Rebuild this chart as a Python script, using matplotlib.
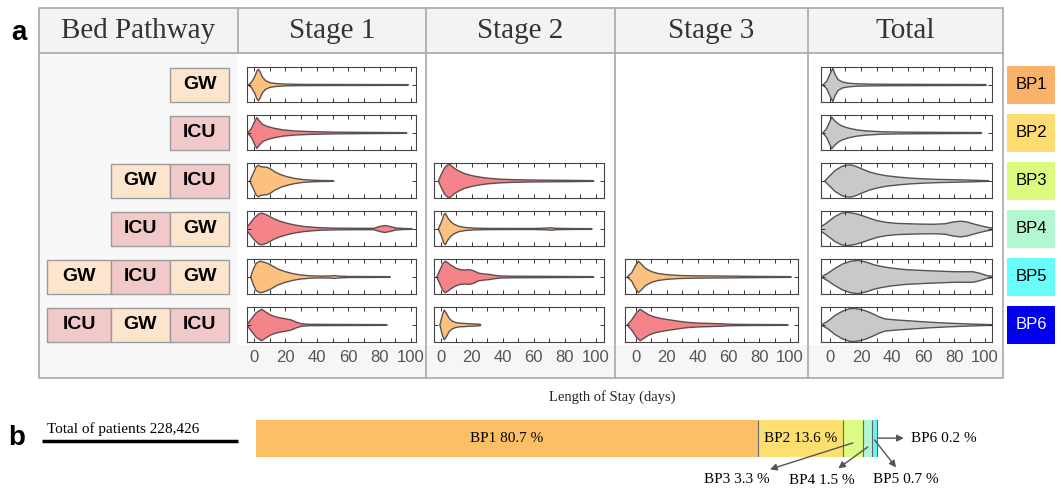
import numpy as np
import matplotlib.pyplot as plt
from matplotlib.patches import Rectangle
from matplotlib.ticker import MultipleLocator

# bed pathways (rows) and their labels
pathways = [["GW"], ["ICU"], ["GW", "ICU"], ["ICU", "GW"],
            ["GW", "ICU", "GW"], ["ICU", "GW", "ICU"]]
bp_names = ["BP1", "BP2", "BP3", "BP4", "BP5", "BP6"]
columns = ["Stage 1", "Stage 2", "Stage 3", "Total"]
ticks = [0, 20, 40, 60, 80, 100]

# share of patients per pathway (%)
shares = [80.7, 13.6, 3.3, 1.5, 0.7, 0.2]
total_patients = "228,426"

# violin outlines: (days, half-width of the density)
bp1_stage1 = ([-4, -2, 0, 1.5, 2.5, 3.5, 5, 7, 10, 14, 20, 30, 50, 75, 97, 98],
              [0, 0.15, 0.45, 0.8, 0.9, 0.75, 0.45, 0.25, 0.13, 0.08, 0.05, 0.035, 0.03, 0.025, 0.02, 0])
bp2_stage1 = ([-4.5, -2, 0, 1.5, 3, 5, 8, 12, 18, 25, 35, 50, 70, 96, 97],
              [0, 0.25, 0.65, 0.88, 0.7, 0.5, 0.38, 0.28, 0.18, 0.12, 0.08, 0.05, 0.035, 0.02, 0])
bp3_stage1 = ([-3, -1, 1, 2.5, 4, 6, 8, 10, 13, 17, 21, 26, 31, 36, 42, 50, 50.5],
              [0, 0.4, 0.8, 0.9, 0.82, 0.8, 0.78, 0.7, 0.52, 0.35, 0.24, 0.14, 0.08, 0.05, 0.03, 0.02, 0])
bp4_stage1 = ([-6, -3, 0, 3, 5, 8, 12, 16, 21, 26, 32, 40, 50, 65, 76, 80, 83, 86, 90, 95, 100, 100.5],
              [0, 0.3, 0.65, 0.88, 0.9, 0.8, 0.6, 0.45, 0.32, 0.22, 0.14, 0.08, 0.05, 0.04, 0.04, 0.15, 0.2,
               0.15, 0.06, 0.03, 0.02, 0])
bp5_stage1 = ([-2.5, -1, 1, 3.5, 6, 9, 12, 15, 19, 24, 29, 35, 42, 48, 51, 54, 60, 75, 86, 86.5],
              [0, 0.4, 0.78, 0.9, 0.85, 0.75, 0.6, 0.45, 0.32, 0.2, 0.12, 0.07, 0.05, 0.06, 0.08, 0.05, 0.03,
               0.025, 0.02, 0])
bp6_stage1 = ([-5, -2, 1, 4.5, 7, 10, 14, 18, 23, 27, 30, 35, 45, 60, 84, 84.5],
              [0, 0.35, 0.7, 0.9, 0.75, 0.58, 0.45, 0.38, 0.3, 0.15, 0.07, 0.04, 0.035, 0.03, 0.02, 0])

bp3_stage2 = ([-2, 0, 2, 4, 5.5, 8, 11, 15, 20, 25, 30, 37, 45, 55, 70, 85, 98, 98.5],
              [0, 0.4, 0.75, 0.92, 0.95, 0.75, 0.58, 0.42, 0.3, 0.22, 0.16, 0.11, 0.08, 0.06, 0.045, 0.035,
               0.02, 0])
bp4_stage2 = ([-2, 0, 1.5, 2.5, 4, 6, 8, 11, 15, 21, 30, 45, 60, 68, 71, 74, 85, 97, 97.5],
              [0, 0.4, 0.8, 0.9, 0.65, 0.42, 0.28, 0.16, 0.09, 0.05, 0.035, 0.03, 0.03, 0.05, 0.07, 0.04,
               0.025, 0.02, 0])
bp5_stage2 = ([-3, -1, 1, 2.5, 4, 6, 9, 12, 15, 18, 21, 24, 28, 31, 34, 38, 45, 60, 80, 98, 98.5],
              [0, 0.4, 0.78, 0.9, 0.82, 0.68, 0.52, 0.42, 0.4, 0.42, 0.35, 0.22, 0.17, 0.15, 0.1, 0.06,
               0.045, 0.04, 0.03, 0.02, 0])
bp6_stage2 = ([-1, 0.5, 1.8, 3, 5, 7, 9, 12, 15, 18, 21, 25, 25.5],
              [0, 0.55, 0.85, 0.7, 0.38, 0.22, 0.15, 0.1, 0.09, 0.07, 0.06, 0.04, 0])

bp5_stage3 = ([-6, -3, -1, 1.3, 3, 6, 10, 14, 20, 27, 35, 45, 55, 62, 70, 85, 100, 100.5],
              [0, 0.25, 0.6, 0.9, 0.75, 0.48, 0.3, 0.2, 0.13, 0.09, 0.07, 0.06, 0.055, 0.05, 0.04, 0.03,
               0.02, 0])
bp6_stage3 = ([-6, -3, 0, 2.4, 5, 8, 12, 16, 21, 27, 33, 40, 48, 55, 62, 75, 98, 98.5],
              [0, 0.3, 0.7, 0.9, 0.75, 0.58, 0.45, 0.37, 0.3, 0.22, 0.15, 0.11, 0.09, 0.07, 0.04, 0.03,
               0.02, 0])

bp1_total = ([-5, -2.5, -0.5, 1.5, 3, 5, 8, 12, 17, 25, 40, 60, 80, 100, 100.5],
             [0, 0.2, 0.6, 0.95, 0.6, 0.3, 0.16, 0.1, 0.07, 0.05, 0.04, 0.035, 0.03, 0.025, 0])
bp2_total = ([-5, -2.5, -0.5, 0.8, 2.5, 5, 8, 12, 17, 23, 33, 45, 70, 97, 97.5],
             [0, 0.25, 0.65, 0.9, 0.72, 0.52, 0.38, 0.27, 0.18, 0.12, 0.07, 0.05, 0.035, 0.025, 0])
bp3_total = ([-3.7, -1, 3, 7, 10, 13, 16, 20, 25, 30, 36, 44, 52, 61, 70, 81, 92, 101.5, 102],
             [0, 0.25, 0.6, 0.82, 0.9, 0.92, 0.85, 0.7, 0.52, 0.4, 0.3, 0.22, 0.16, 0.12, 0.09, 0.07,
              0.045, 0.02, 0])
bp4_total = ([-8, -4, -1, 3, 7, 11, 15, 20, 25, 30, 36, 43, 50, 58, 66, 74, 79, 84, 88, 94, 100, 105, 106],
             [0.03, 0.25, 0.45, 0.72, 0.9, 0.95, 0.9, 0.78, 0.62, 0.48, 0.38, 0.32, 0.3, 0.28, 0.27, 0.3,
              0.4, 0.45, 0.4, 0.25, 0.12, 0.04, 0.04])
bp5_total = ([-6, -2, 3, 8, 13, 18, 23, 28, 33, 40, 49, 58, 66, 74, 81, 88, 92, 96, 101, 105],
             [0, 0.2, 0.5, 0.75, 0.9, 0.95, 0.85, 0.7, 0.6, 0.5, 0.42, 0.38, 0.35, 0.32, 0.3, 0.3, 0.3,
              0.22, 0.08, 0.03])
bp6_total = ([-6, -2, 3, 8, 12, 15, 19, 23, 27, 31, 35, 42, 49, 57, 66, 75, 83, 92, 100, 105],
             [0, 0.2, 0.55, 0.8, 0.92, 0.95, 0.9, 0.8, 0.65, 0.48, 0.35, 0.29, 0.25, 0.2, 0.15, 0.11,
              0.08, 0.05, 0.03, 0.02])

stage_violins = [
    [bp1_stage1, bp2_stage1, bp3_stage1, bp4_stage1, bp5_stage1, bp6_stage1],
    [None, None, bp3_stage2, bp4_stage2, bp5_stage2, bp6_stage2],
    [None, None, None, None, bp5_stage3, bp6_stage3],
    [bp1_total, bp2_total, bp3_total, bp4_total, bp5_total, bp6_total],
]

# styling
ward_fill = {"GW": "#fde5cd", "ICU": "#f2c9c9"}
violin_fill = {"GW": "#fcc17e", "ICU": "#f4838a", "Total": "#c9c9c9"}
bp_colors = ["#f9b269", "#fedc72", "#dcfb7e", "#b2f7cf", "#68fcfa", "#0000ee"]
bar_colors = ["#fdbf66", "#fddf70", "#ddfa82", "#b3f6d4", "#5df8f8", "#1a1ad8"]
serif = ["Liberation Serif", "DejaVu Serif"]
sans = ["Liberation Sans", "DejaVu Sans"]

W, H = 1061, 488


def frac(l, t, r, b):
    # pixel box -> figure fraction
    return [l / W, 1 - b / H, (r - l) / W, (b - t) / H]


fig = plt.figure(figsize=(W / 100, H / 100), dpi=100)
bg = fig.add_axes([0, 0, 1, 1], zorder=0)
bg.set_xlim(0, W)
bg.set_ylim(H, 0)
bg.axis("off")

# ---- table frame ----
grid = "#a8a8a8"
bg.add_patch(Rectangle((39, 8), 964, 45, fc="#f3f3f3", ec="none"))
bg.add_patch(Rectangle((39, 53), 199, 325, fc="#f8f8f8", ec="none"))
bg.add_patch(Rectangle((238, 345), 765, 32, fc="#f6f6f6", ec="none"))
bg.add_patch(Rectangle((39, 8), 964, 370, fc="none", ec=grid, lw=1.2))
bg.plot([39, 1003], [53, 53], color=grid, lw=1.2)
bg.plot([238, 238], [8, 53], color=grid, lw=1.2)
for x in [426, 615, 808]:
    bg.plot([x, x], [8, 378], color=grid, lw=1.2)

header_x = [138.5, 332, 520.5, 711.5, 905.5]
for hx, name in zip(header_x, ["Bed Pathway"] + columns):
    bg.text(hx, 31, name, ha="center", va="center", fontsize=21,
            family=serif, color="#333333")

bg.text(19, 33, "a", ha="center", va="center", fontsize=20,
        fontweight="bold", family=sans)
bg.text(17, 438, "b", ha="center", va="center", fontsize=20,
        fontweight="bold", family=sans)

# ---- pathway boxes and BP labels ----
edges = [47, 111, 170, 229]
for i, path in enumerate(pathways):
    cy = 84.5 + 48 * i
    n = len(path)
    for j, ward in enumerate(path):
        x0, x1 = edges[3 - n + j], edges[4 - n + j]
        bg.add_patch(Rectangle((x0, cy - 17), x1 - x0, 34, fc=ward_fill[ward],
                               ec="#9a9a9a", lw=1.0))
        bg.text((x0 + x1) / 2, cy, ward, ha="center", va="center",
                fontsize=14, fontweight="bold", family=sans)
    bg.add_patch(Rectangle((1007, cy - 19), 48, 38, fc=bp_colors[i], ec="none"))
    bg.text(1031, cy, bp_names[i], ha="center", va="center", fontsize=12,
            family=sans, color="white" if i == 5 else "black")

bg.text(612, 397, "Length of Stay (days)", ha="center", va="center",
        fontsize=10.5, family=serif, color="#222222")

# ---- violin panels ----
col_px = [(247, 416), (434, 604), (625, 798), (821, 992)]
col_xlim = [(-4.5, 103.2), (-4.5, 105.5), (-7.1, 105.2), (-5.8, 104.5)]

for c, violins in enumerate(stage_violins):
    last = max(i for i, v in enumerate(violins) if v is not None)
    for i, prof in enumerate(violins):
        if prof is None:
            continue
        cy = 84.5 + 48 * i
        ax = fig.add_axes(frac(col_px[c][0], cy - 17.5, col_px[c][1], cy + 17.5),
                          zorder=2)
        ax.set_facecolor("white")
        days, half = np.array(prof[0]), np.array(prof[1])
        key = "Total" if c == 3 else pathways[i][c]
        ax.fill_between(days, -half, half, facecolor=violin_fill[key],
                        edgecolor="#5a5050", lw=1.0)
        ax.set_xlim(*col_xlim[c])
        ax.set_ylim(-1, 1)
        ax.set_xticks(ticks)
        ax.xaxis.set_minor_locator(MultipleLocator(10))
        ax.set_yticks([0])
        ax.set_yticklabels([])
        ax.tick_params(axis="both", which="both", direction="in", top=True,
                       right=True, length=3, width=0.7, color="#333333")
        if i == last:
            ax.tick_params(axis="x", labelsize=12, labelcolor="#555555", pad=6)
            for lab in ax.get_xticklabels():
                lab.set_family(sans)
        else:
            ax.set_xticklabels([])
        for sp in ax.spines.values():
            sp.set_color("#444444")
            sp.set_linewidth(0.8)

# ---- part b: stacked share bar ----
bx = fig.add_axes(frac(256, 420, 878, 457), zorder=2)
cum = np.cumsum(shares)
lefts = cum - np.array(shares)
bx.barh(0.5, shares, left=lefts, height=1.0, color=bar_colors, edgecolor="none")
bx.vlines(cum[:-1], 0, 1, color="#666666", lw=0.8)
bx.set_xlim(0, 100)
bx.set_ylim(0, 1)
bx.axis("off")

for k in range(2):
    bx.text(lefts[k] + shares[k] / 2, 0.5, f"{bp_names[k]} {shares[k]} %",
            ha="center", va="center", fontsize=11, family=serif)

# outside labels: (tail y in bar, text offset in points)
callouts = {2: (0.38, (-83.5, -26.6)), 3: (0.27, (-32.9, -23.8)),
            4: (0.46, (22.6, -28.8)), 5: (0.51, (47.2, 0))}
for k, (ty, off) in callouts.items():
    tx = 100 if k == 5 else lefts[k] + shares[k] / 2
    bx.annotate(f"{bp_names[k]} {shares[k]} %", xy=(tx, ty), xytext=off,
                textcoords="offset points", ha="center", va="center",
                fontsize=11, family=serif, annotation_clip=False,
                arrowprops=dict(arrowstyle="<|-", color="#555555", lw=1.0,
                                mutation_scale=10, shrinkA=3, shrinkB=0))

bg.text(47, 433, f"Total of patients {total_patients}", ha="left",
        va="baseline", fontsize=11, family=serif)
bg.plot([42, 238], [441, 441], color="black", lw=2.5, solid_capstyle="butt")

fig.savefig("out.png", dpi=100)
